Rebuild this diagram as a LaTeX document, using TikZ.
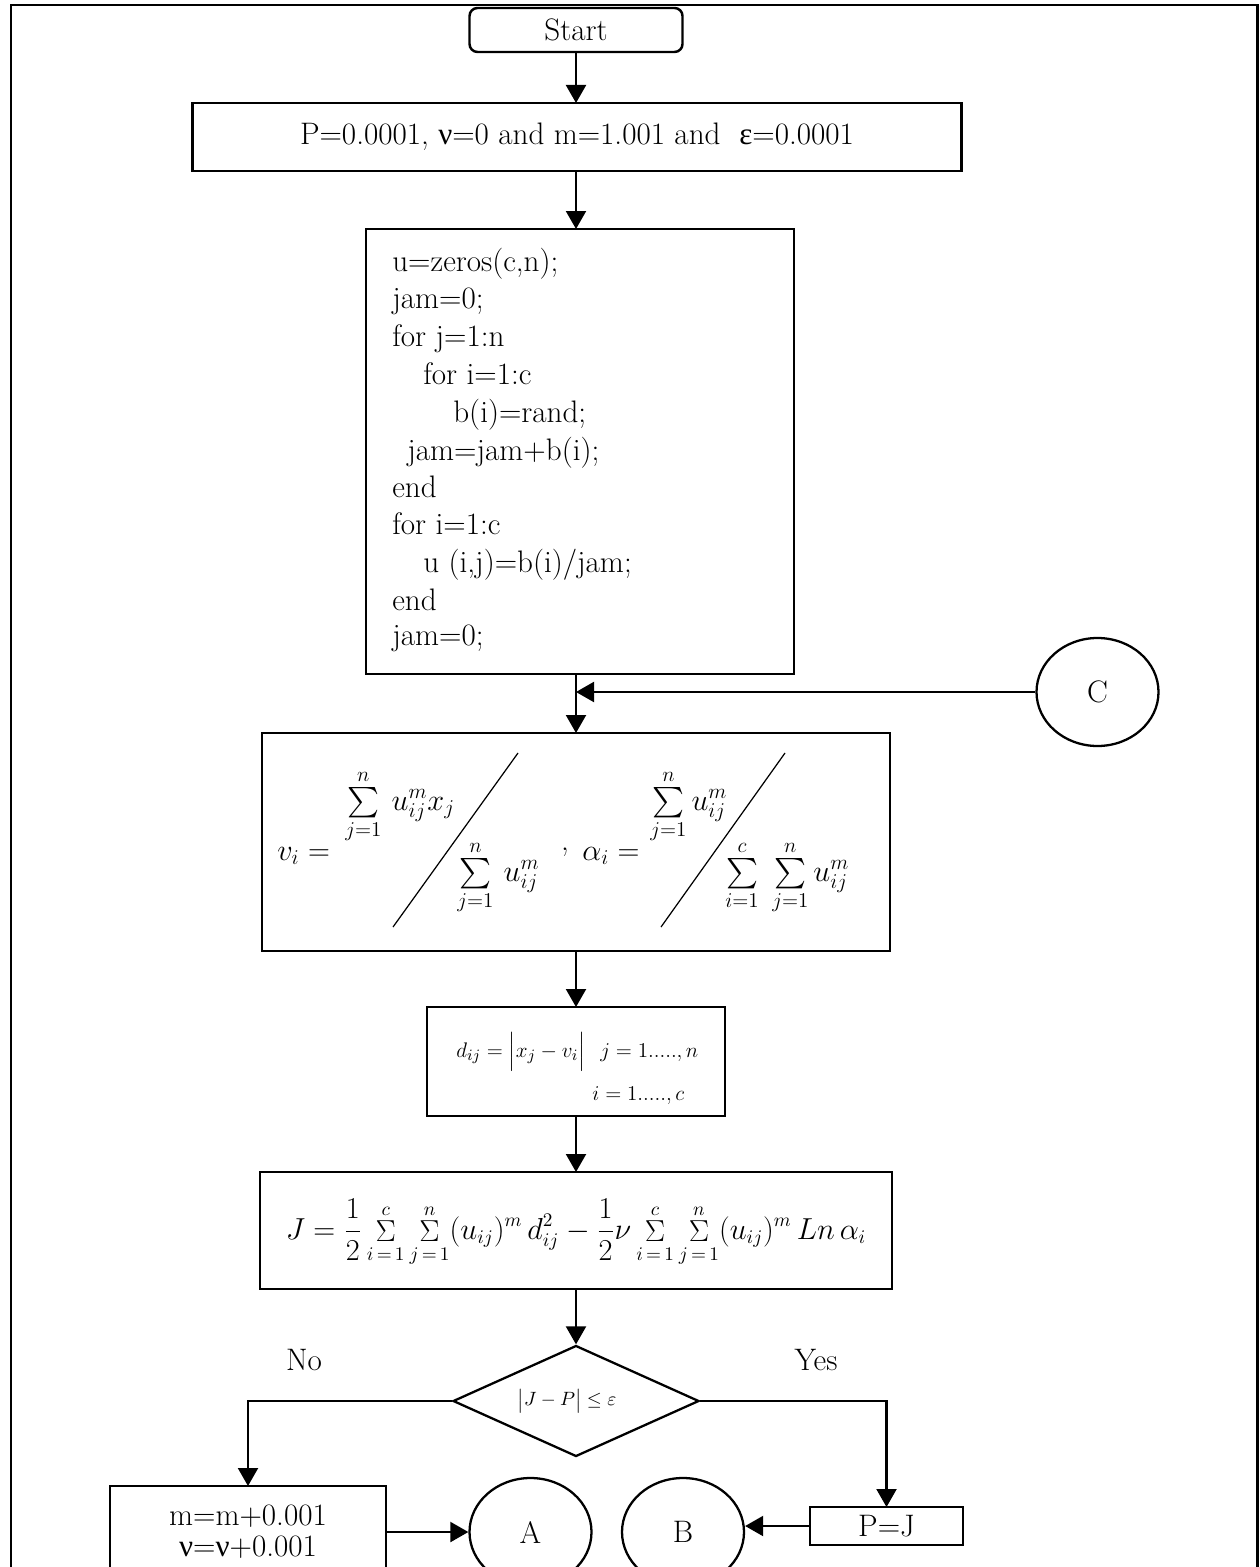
\documentclass[tikz,border=0pt]{standalone}
\usepackage{amsmath}
\usepackage{fontspec}
\newfontfamily\grk{Liberation Serif}
\usetikzlibrary{shapes.geometric,arrows.meta}
\newcommand\pxu{0.02cm}
\newcommand\gnu{{\grk ν}}
\newcommand\geps{{\grk ε}}
\begin{document}
\begin{tikzpicture}[x=0.02cm,y=-0.02cm,
  font=\fontsize{17.7}{21}\selectfont,
  box/.style={draw, line width=1.4pt, inner sep=0pt, outer sep=0pt},
  arr/.style={line width=1.2pt, -{Triangle[length=0.36cm,width=0.4cm]}},
  codeline/.style={anchor=base west, inner sep=0pt},
  mathpart/.style={anchor=base west, inner sep=0pt},
  slash/.style={line width=0.7pt},
  conn/.style={draw, ellipse, line width=1.3pt, inner sep=0pt, minimum width=122*\pxu, minimum height=108*\pxu},
  small/.style={font=\fontsize{13}{15}\selectfont}]
\useasboundingbox (0,0) rectangle (1259,1567);
\clip (0,0) rectangle (1259,1567);
\draw[line width=1.4pt] (11,5) rectangle (1257.5,1620);

% nodes
\node[box, rounded corners=0.16cm, minimum width=213*\pxu, minimum height=44*\pxu] (start) at (576,30) {Start};
\node[box, minimum width=769*\pxu, minimum height=68*\pxu] (params) at (577,137) {P=0.0001, \gnu=0 and m=1.001 and\ \ \geps=0.0001};
\node[box, minimum width=428*\pxu, minimum height=445*\pxu] (init) at (580,451.5) {};
\node[codeline] (c1) at (392,272) {u=zeros(c,n);};
\node[codeline] (c2) at (392,309) {jam=0;};
\node[codeline] (c3) at (392,347) {for j=1:n};
\node[codeline] (c4) at (423,384) {for i=1:c};
\node[codeline] (c5) at (453,422) {b(i)=rand;};
\node[codeline] (c6) at (407,460) {jam=jam+b(i);};
\node[codeline] (c7) at (392,497) {end};
\node[codeline] (c8) at (392,534) {for i=1:c};
\node[codeline] (c9) at (423,572) {u (i,j)=b(i)/jam;};
\node[codeline] (c10) at (392,610) {end};
\node[codeline] (c11) at (392,645) {jam=0;};

\node[conn] (C) at (1097.5,692) {C};

\node[box, minimum width=628*\pxu, minimum height=218*\pxu] (cent) at (576,842) {};
\node[mathpart] (vlhs) at (277,860) {$v_{i} =$};
\node[mathpart] (vnum) at (345,810) {$\sum\limits_{j=1}^{n}\,u_{ij}^{m}x_{j}$};
\node[mathpart] (vden) at (457,881) {$\sum\limits_{j=1}^{n}\,u_{ij}^{m}$};
\draw[slash] (393,927) -- (518,753);
\node[anchor=base, inner sep=0pt] (comma) at (565,850) {,};
\node[mathpart] (alhs) at (582,860) {$\alpha_{i} =$};
\node[mathpart] (anum) at (650,810) {$\sum\limits_{j=1}^{n}u_{ij}^{m}$};
\node[mathpart] (aden) at (725,881) {$\sum\limits_{i=1}^{c}\;\sum\limits_{j=1}^{n}u_{ij}^{m}$};
\draw[slash] (661,927) -- (785,753);

\node[box, minimum width=298*\pxu, minimum height=109*\pxu] (dist) at (576,1061.5) {};
\node[mathpart, small] (d1) at (456,1057) {$d_{ij} = \Big|x_{j} - v_{i}\Big|$};
\node[mathpart, small] (d2) at (600,1057) {$j = 1.....,n$};
\node[mathpart, small] (d3) at (592,1100) {$i = 1.....,c$};

\node[box, minimum width=632*\pxu, minimum height=117*\pxu] (obj) at (576,1230.5) {};
\node[inner sep=0pt, font=\fontsize{16}{19}\selectfont] (Jf) at (576,1233) {$\displaystyle J = \frac{1}{2}\mathop{\Sigma}\limits_{i\,=\,1}^{c}\mathop{\Sigma}\limits_{j\,=\,1}^{n}(u_{ij})^{m}\,d_{ij}^{2} - \frac{1}{2}\nu\mathop{\Sigma}\limits_{i\,=\,1}^{c}\mathop{\Sigma}\limits_{j\,=\,1}^{n}(u_{ij})^{m}\,Ln\,\alpha_{i}$};

\node[draw, diamond, line width=1.3pt, inner sep=0pt, minimum width=246*\pxu, minimum height=111*\pxu] (dec) at (576,1401) {};
\node[inner sep=0pt, font=\fontsize{11}{13}\selectfont] (dect) at (567,1401) {$\bigl|J - P\bigr| \le \varepsilon$};
\node (no) at (304,1360) {No};
\node (yes) at (816,1360) {Yes};

\node[box, minimum width=276*\pxu, minimum height=92*\pxu, align=center, font=\fontsize{17.7}{17.6}\selectfont] (upd) at (248,1532) {m=m+0.001\\\gnu=\gnu+0.001};
\node[conn] (A) at (530.5,1532) {A};
\node[conn] (B) at (683,1532) {B};
\node[box, minimum width=153*\pxu, minimum height=38*\pxu] (PJ) at (886.5,1526) {P=J};

% connectors
\draw[arr] (start) -- (start |- params.north);
\draw[arr] (start |- params.south) -- (start |- init.north);
\draw[arr] (start |- init.south) -- (start |- cent.north);
\draw[arr] (C.west) -- (C.west -| start);
\draw[arr] (cent) -- (dist);
\draw[arr] (dist) -- (obj);
\draw[arr] (obj) -- (dec);
\draw[arr] (dec.west) -| (upd.north);
\draw[arr] (dec.east) -| (PJ.north);
\draw[arr] (upd.east |- A.west) -- (A.west);
\draw[arr] (PJ.west) -- (PJ.west -| B.east);
\end{tikzpicture}
\end{document}
